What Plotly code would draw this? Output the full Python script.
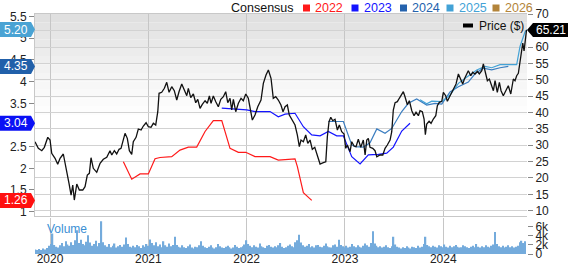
import plotly.graph_objects as go
import pandas as pd

# ---------------- data ----------------
# Price ($), time in decimal years
price_t = [2019.847, 2019.881, 2019.916, 2019.942, 2019.977, 2020.000, 2020.017, 2020.051, 2020.078, 2020.102,
           2020.135, 2020.170, 2020.193, 2020.214, 2020.231, 2020.247, 2020.272, 2020.298, 2020.333, 2020.356,
           2020.379, 2020.400, 2020.417, 2020.440, 2020.475, 2020.509, 2020.542, 2020.577, 2020.610, 2020.628,
           2020.654, 2020.678, 2020.702, 2020.722, 2020.740, 2020.763, 2020.786, 2020.807, 2020.831, 2020.847,
           2020.875, 2020.898, 2020.926, 2020.949, 2020.977, 2021.000, 2021.027, 2021.051, 2021.075, 2021.096,
           2021.109, 2021.136, 2021.163, 2021.187, 2021.211, 2021.238, 2021.264, 2021.289, 2021.312, 2021.340,
           2021.366, 2021.391, 2021.407, 2021.431, 2021.458, 2021.482, 2021.503, 2021.526, 2021.549, 2021.577,
           2021.600, 2021.621, 2021.638, 2021.661, 2021.686, 2021.712, 2021.737, 2021.763, 2021.787, 2021.808,
           2021.831, 2021.848, 2021.865, 2021.889, 2021.916, 2021.943, 2021.966, 2021.991, 2022.017, 2022.035,
           2022.058, 2022.085, 2022.113, 2022.146, 2022.170, 2022.197, 2022.221, 2022.248, 2022.271, 2022.296,
           2022.322, 2022.349, 2022.370, 2022.391, 2022.414, 2022.434, 2022.459, 2022.492, 2022.516, 2022.536,
           2022.553, 2022.577, 2022.601, 2022.622, 2022.645, 2022.668, 2022.693, 2022.719, 2022.747, 2022.780,
           2022.805, 2022.821, 2022.838, 2022.856, 2022.876, 2022.899, 2022.923, 2022.943, 2022.967, 2022.991,
           2023.008, 2023.024, 2023.052, 2023.069, 2023.093, 2023.113, 2023.136, 2023.161, 2023.187, 2023.205,
           2023.222, 2023.238, 2023.255, 2023.283, 2023.306, 2023.324, 2023.357, 2023.385, 2023.408, 2023.431,
           2023.459, 2023.476, 2023.492, 2023.510, 2023.533, 2023.553, 2023.578, 2023.594, 2023.611, 2023.629,
           2023.635, 2023.655, 2023.680, 2023.703, 2023.723, 2023.747, 2023.764, 2023.787, 2023.805, 2023.818,
           2023.832, 2023.856, 2023.876, 2023.899, 2023.924, 2023.940, 2023.960, 2023.985, 2024.001, 2024.025,
           2024.042, 2024.062, 2024.086, 2024.110, 2024.130, 2024.154, 2024.178, 2024.198, 2024.215, 2024.239,
           2024.255, 2024.280, 2024.300, 2024.323, 2024.347, 2024.367, 2024.392, 2024.408, 2024.425, 2024.449,
           2024.469, 2024.486, 2024.510, 2024.527, 2024.550, 2024.571, 2024.588, 2024.611, 2024.636, 2024.662,
           2024.687, 2024.713, 2024.730, 2024.747, 2024.764, 2024.781, 2024.799, 2024.809, 2024.822, 2024.834,
           2024.847]
price_v = [31.07, 29.06, 28.33, 29.36, 32.42, 31.59, 27.53, 26.00, 24.17, 26.00,
           27.32, 22.43, 18.37, 14.79, 17.85, 13.26, 18.15, 16.32, 16.32, 17.33,
           20.90, 21.42, 26.19, 22.95, 21.73, 24.48, 25.70, 26.31, 28.33, 27.01,
           28.33, 27.32, 28.75, 29.06, 31.07, 33.64, 32.11, 28.33, 27.23, 31.07,
           32.42, 34.96, 34.65, 35.87, 36.88, 35.66, 35.48, 36.70, 36.18, 40.24,
           45.86, 46.17, 47.39, 49.22, 46.17, 47.88, 46.66, 43.82, 46.35, 48.70,
           46.87, 45.13, 47.39, 44.52, 45.65, 42.99, 44.03, 41.28, 42.50, 43.60,
           42.81, 45.04, 42.81, 45.04, 43.30, 41.77, 44.03, 44.82, 46.35, 42.99,
           44.34, 40.76, 44.03, 40.24, 42.81, 44.34, 43.60, 45.65, 44.34, 41.77,
           37.70, 39.23, 41.77, 43.82, 48.92, 51.45, 52.98, 50.45, 44.34, 44.82,
           43.82, 42.29, 40.24, 41.77, 42.29, 39.23, 37.70, 36.18, 33.12, 29.55,
           31.59, 31.07, 33.12, 30.59, 31.59, 28.75, 29.36, 26.49, 24.26, 24.66,
           24.96, 32.60, 37.19, 38.53, 37.49, 37.92, 34.65, 36.18, 34.13, 33.43,
           29.06, 30.07, 28.02, 31.07, 29.76, 29.55, 31.81, 29.36, 31.59, 27.01,
           31.59, 32.11, 29.36, 29.06, 28.33, 26.49, 27.01, 27.01, 29.06, 30.07,
           31.59, 34.13, 40.76, 42.99, 43.30, 44.34, 45.86, 46.35, 44.82, 43.30,
           42.38, 43.60, 40.55, 39.02, 40.06, 39.02, 40.55, 40.24, 38.01, 33.21,
           36.48, 37.31, 36.70, 38.01, 39.02, 42.07, 43.11, 43.42, 46.17, 45.13,
           43.42, 44.64, 46.17, 47.70, 48.70, 51.76, 50.23, 48.70, 50.23, 51.55,
           52.77, 51.24, 52.28, 51.76, 52.58, 51.76, 52.77, 54.82, 52.28, 49.71,
           50.23, 48.70, 46.66, 49.71, 46.17, 49.22, 46.66, 45.13, 46.87, 48.18,
           45.65, 50.23, 49.71, 51.24, 51.97, 55.33, 60.41, 61.23, 58.79, 62.15,
           65.21]

# Consensus EPS estimates
c2022_t = [2020.746, 2020.831, 2020.916, 2021.000, 2021.068, 2021.119, 2021.238, 2021.322, 2021.407, 2021.492,
           2021.577, 2021.661, 2021.747, 2021.831, 2021.916, 2021.991, 2022.085, 2022.238, 2022.322, 2022.492,
           2022.516, 2022.577, 2022.662]
c2022_v = [2.15, 1.75, 1.87, 1.87, 2.22, 2.25, 2.27, 2.42, 2.49, 2.49,
           2.85, 3.10, 3.10, 2.46, 2.37, 2.37, 2.27, 2.27, 2.19, 2.22,
           2.04, 1.44, 1.26]

c2023_t = [2021.747, 2022.001, 2022.085, 2022.238, 2022.322, 2022.391, 2022.492, 2022.577, 2022.662, 2022.747,
           2022.831, 2022.916, 2022.984, 2023.069, 2023.154, 2023.238, 2023.340, 2023.425, 2023.492, 2023.578,
           2023.662]
c2023_v = [3.39, 3.35, 3.31, 3.31, 3.19, 3.25, 3.27, 2.96, 2.77, 2.75,
           2.85, 2.75, 2.75, 2.27, 2.10, 2.31, 2.32, 2.35, 2.49, 2.86,
           3.04]

c2024_t = [2022.831, 2022.984, 2023.069, 2023.103, 2023.187, 2023.255, 2023.324, 2023.408, 2023.476, 2023.578,
           2023.645, 2023.730, 2023.832, 2023.917, 2023.985, 2024.069, 2024.154, 2024.255, 2024.323, 2024.408,
           2024.493, 2024.578, 2024.662]
c2024_v = [3.08, 3.08, 2.54, 2.50, 2.49, 2.59, 2.91, 2.81, 2.92, 3.31,
           3.50, 3.60, 3.46, 3.50, 3.48, 3.76, 3.88, 3.99, 4.18, 4.31,
           4.27, 4.32, 4.35]

c2025_t = [2023.764, 2023.832, 2023.883, 2023.985, 2024.069, 2024.154, 2024.255, 2024.341, 2024.425, 2024.493,
           2024.578, 2024.747, 2024.781, 2024.832, 2024.852]
c2025_v = [3.58, 3.49, 3.55, 3.54, 3.69, 3.96, 4.13, 4.27, 4.35, 4.32,
           4.39, 4.39, 4.81, 5.15, 5.20]

# Weekly volume (thousands)
volume_k = [1.0, 0.9, 1.1, 0.9, 1.2, 1.0, 1.3,
            1.8, 2.2, 4.5, 2.0, 1.6, 1.4,
            1.9, 2.4, 1.7, 2.8, 2.1, 1.8, 2.6, 2.0, 3.0,
            5.2,
            2.4, 3.1, 2.2, 1.9, 2.7,
            4.1,
            2.5, 1.8, 2.2, 2.9, 1.7, 2.4,
            7.2,
            2.6, 1.9, 1.6, 2.2, 1.5, 1.8, 2.3, 1.4, 1.7, 2.0, 1.6, 2.1,
            3.6,
            2.2, 1.6, 1.4, 1.8, 1.5, 2.0, 1.7, 1.3, 1.9, 1.6, 2.2, 1.8,
            3.2,
            2.4, 1.9, 2.6, 1.7, 2.1, 1.5, 2.8, 1.9, 1.6, 2.3, 1.7, 2.0,
            3.8,
            2.0, 1.6, 1.4, 1.9, 1.5, 1.3, 1.7, 2.1, 1.4, 1.2, 1.6, 1.5, 1.9,
            2.8,
            1.8, 1.5, 1.3, 1.6, 1.9, 1.4, 1.2, 1.5, 2.2, 1.7, 1.4, 1.3, 1.6, 1.8, 1.5, 1.2, 1.4, 2.0, 1.6, 1.3, 1.5, 1.7, 2.1,
            3.0,
            2.2, 1.8, 1.5, 1.9, 1.6, 1.4, 2.3, 1.7, 1.5, 1.3, 1.8, 2.0, 1.6, 1.4, 1.7, 1.5, 1.9, 2.4, 1.6, 1.3, 1.5, 1.8, 2.1, 1.7, 1.5, 2.6, 3.0,
            4.2,
            2.5, 1.9, 1.6, 1.8, 2.2, 1.5, 1.7, 1.4, 1.9, 2.0, 1.6, 1.5, 1.8, 2.3, 1.7, 1.5, 1.4, 1.9, 2.1, 1.6,
            3.1,
            2.0, 1.7, 1.5, 1.8, 1.4, 1.6, 2.2, 1.7, 1.5, 1.9, 1.6, 1.4, 1.8, 2.3, 1.9, 1.6, 2.4,
            5.0,
            2.3, 1.8, 1.5, 1.7, 1.4, 1.6, 1.9, 1.5, 1.3, 1.7,
            3.8,
            2.1, 1.6, 1.4, 1.2, 1.5, 1.3, 1.7, 1.4, 1.2, 1.6, 1.5, 1.3, 1.8, 1.4, 1.6, 2.2,
            3.8,
            2.0, 1.7, 1.5, 1.8, 1.6, 1.4, 1.9, 1.7, 1.5, 2.1, 1.6, 1.4, 1.8, 1.5, 1.7, 2.0, 1.6, 1.4,
            1.5, 1.9, 1.7, 1.5, 1.3, 1.6, 1.8, 1.5, 2.2, 1.6, 1.4, 1.7, 1.5, 1.9, 1.6, 1.4, 1.8, 2.1,
            4.8,
            2.2, 1.7, 1.5, 1.8, 1.4, 1.6, 1.9, 1.5, 1.7, 1.4, 1.6, 1.8,
            2.6, 2.9, 2.4, 2.8]
volume_start = "2019-11-08"

year_ticks = [2020, 2021, 2022, 2023, 2024]
eps_ticks = [1, 1.5, 2, 2.5, 3, 3.5, 4, 4.5, 5, 5.5]
price_ticks = [10, 15, 20, 25, 30, 35, 40, 45, 50, 55, 60, 65, 70]
vol_ticks = [0, 2, 4, 6]
vol_ticktext = ["0", "2k", "4k", "6k"]

series_names = ["2022", "2023", "2024", "2025", "2026"]
series_colors = ["#ff1a1a", "#1414ff", "#2462ad", "#43a2d6", "#b3843a"]
badge_colors = {"2022": "#ff1010", "2023": "#0a10f5", "2024": "#2160aa", "2025": "#4aa3d4"}

# ---------------- build ----------------
dates = pd.date_range(volume_start, periods=len(volume_k), freq="7D")
vol_t = [d.year + (d.dayofyear - 0.5) / (366 if d.is_leap_year else 365) for d in dates]

FONT = "Liberation Sans, Arial, sans-serif"
XR = [2019.847, 2024.852]

fig = go.Figure()
fig.add_trace(go.Bar(x=vol_t, y=volume_k, xaxis="x2", yaxis="y3",
                     marker=dict(color="#74abdc", line=dict(width=0)), showlegend=False))

cons = [(c2022_t, c2022_v, series_colors[0]), (c2023_t, c2023_v, series_colors[1]),
        (c2024_t, c2024_v, "#3a7dc0"), (c2025_t, c2025_v, series_colors[3])]
for t, v, col in cons:
    fig.add_trace(go.Scatter(x=t, y=v, mode="lines", line=dict(color=col, width=1.2),
                             xaxis="x", yaxis="y", showlegend=False))
fig.add_trace(go.Scatter(x=price_t, y=price_v, mode="lines", line=dict(color="#111111", width=1.3),
                         xaxis="x", yaxis="y2", showlegend=False))

# layout helpers (pixel -> paper) for decorations only
L, R, T, B = 35, 41, 14, 10
W, H = 568, 264
PW, PH = W - L - R, H - T - B
def px(x): return (x - L) / PW
def py(y): return (H - B - y) / PH

main_dom = [py(216), 1]
vol_dom = [0, py(217.5)]

shapes = []
# gradient background of main panel
grad = ["#e0e0e0", "#e3e3e3", "#e6e6e6", "#e9e9e9", "#ececec", "#efefef", "#f2f2f2",
        "#f5f5f5", "#f7f7f7", "#f9f9f9", "#fbfbfb", "#fdfdfd"]
n = len(grad)
for i, c in enumerate(grad):
    y1 = 1 - i * 0.5 / n
    y0 = 1 - (i + 1) * 0.5 / n
    shapes.append(dict(type="rect", xref="x domain", yref="y domain", x0=0, x1=1, y0=y0, y1=y1,
                       fillcolor=c, line=dict(width=0), layer="below"))

annotations = []
# left badges
for name, val in [("2025", c2025_v[-1]), ("2024", c2024_v[-1]), ("2023", c2023_v[-1]), ("2022", c2022_v[-1])]:
    shapes.append(dict(type="path", xref="paper", yref="y", xsizemode="pixel", ysizemode="pixel",
                       xanchor=0, yanchor=val, path="M -35,-7.5 L -4,-7.5 L 0,0 L -4,7.5 L -35,7.5 Z",
                       fillcolor=badge_colors[name], line=dict(width=0), layer="above"))
    annotations.append(dict(x=0, y=val, xref="paper", yref="y", xshift=-19, text=f"{val:.2f}",
                            showarrow=False, font=dict(color="white", size=12, family=FONT),
                            xanchor="center", yanchor="middle"))
# right price badge
last_price = price_v[-1]
shapes.append(dict(type="path", xref="paper", yref="y2", xsizemode="pixel", ysizemode="pixel",
                   xanchor=1, yanchor=last_price, path="M 0,0 L 6,-7 L 41,-7 L 41,7 L 6,7 Z",
                   fillcolor="#000000", line=dict(width=0), layer="above"))
annotations.append(dict(x=1, y=last_price, xref="paper", yref="y2", xshift=24, text=f"{last_price:.2f}",
                        showarrow=False, font=dict(color="white", size=12, family=FONT),
                        xanchor="center", yanchor="middle"))

# top legend
annotations.append(dict(x=px(229), y=py(8), xref="paper", yref="paper", text="Consensus", showarrow=False,
                        xanchor="left", yanchor="middle", font=dict(color="#111", size=12.5, family=FONT)))
sq_x = [303, 351.5, 400, 446.5, 492.5]
for name, col, sx in zip(series_names, series_colors, sq_x):
    shapes.append(dict(type="rect", xref="paper", yref="paper", x0=px(sx), x1=px(sx + 7),
                       y0=py(11.5), y1=py(4.5), fillcolor=col, line=dict(width=0), layer="above"))
    annotations.append(dict(x=px(sx + 10), y=py(8), xref="paper", yref="paper", text=name, showarrow=False,
                            xanchor="left", yanchor="middle", font=dict(color=col, size=12.5, family=FONT)))
# price legend
shapes.append(dict(type="rect", xref="paper", yref="paper", x0=px(463), x1=px(473), y0=py(27.5), y1=py(23.5),
                   fillcolor="#000", line=dict(width=0), layer="above"))
annotations.append(dict(x=px(477), y=py(25.5), xref="paper", yref="paper", text="Price ($)", showarrow=False,
                        xanchor="left", yanchor="middle", font=dict(color="#111", size=12, family=FONT)))
# volume label
annotations.append(dict(x=px(45), y=py(229), xref="paper", yref="paper", text="Volume", showarrow=False,
                        xanchor="left", yanchor="middle", font=dict(color="#3b8fd4", size=12, family=FONT)))

tickfont = dict(size=12, color="#222", family=FONT)
fig.update_layout(
    width=W, height=H, autosize=False,
    margin=dict(l=L, r=R, t=T, b=B, pad=0),
    paper_bgcolor="white", plot_bgcolor="white",
    showlegend=False, bargap=0.3,
    font=dict(family=FONT),
    xaxis=dict(domain=[0, 1], anchor="y", range=XR, tickvals=year_ticks, showticklabels=False,
               showgrid=True, gridcolor="#c6c6c6", gridwidth=1, ticks="", zeroline=False, automargin=False,
               showline=True, linecolor="#c8c8c8", linewidth=1, mirror=True),
    yaxis=dict(domain=main_dom, anchor="x", range=[0.9, 5.56], tickvals=eps_ticks, automargin=False,
               ticktext=[f"{v:g}" for v in eps_ticks], ticks="outside", ticklen=5, tickcolor="#888",
               showgrid=False, zeroline=False, showline=True, linecolor="#c8c8c8", tickfont=tickfont),
    yaxis2=dict(overlaying="y", side="right", anchor="x", range=[8.38, 70.09], tickvals=price_ticks,
                ticks="outside", ticklen=5, tickcolor="#888", showgrid=True, gridcolor="#d2d2d2",
                zeroline=False, showline=False, tickfont=tickfont, automargin=False),
    xaxis2=dict(domain=[0, 1], anchor="y3", range=XR, tickvals=year_ticks, ticktext=[str(y) for y in year_ticks],
                showgrid=True, gridcolor="#c6c6c6", ticks="", zeroline=False, showline=False,
                tickfont=dict(size=12, color="#222", family=FONT), ticklabelstandoff=-4,
                automargin=False),
    yaxis3=dict(domain=vol_dom, anchor="x2", side="right", range=[0, 8.0], tickvals=vol_ticks,
                ticktext=vol_ticktext, ticks="outside", ticklen=5, tickcolor="#888", showgrid=False,
                zeroline=False, showline=False, tickfont=tickfont, automargin=False),
    shapes=shapes, annotations=annotations,
)

fig.write_html("out.html")
